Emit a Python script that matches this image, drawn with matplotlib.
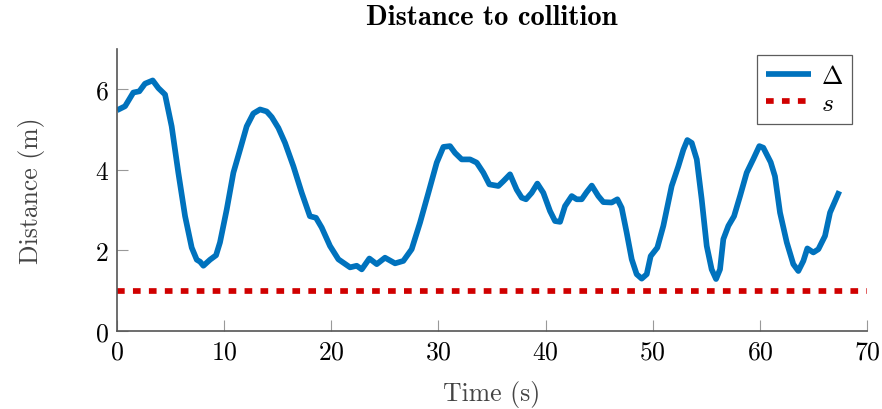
import numpy as np
import matplotlib
matplotlib.use('Agg')
import matplotlib.pyplot as plt

plt.rcParams['font.family'] = 'cmr10'
plt.rcParams['mathtext.fontset'] = 'cm'
plt.rcParams['axes.unicode_minus'] = False
plt.rcParams['axes.formatter.use_mathtext'] = True

# data
time = [0.0, 0.75, 1.52, 2.08, 2.61, 3.33, 3.86, 4.48, 5.1, 5.72, 6.35, 6.97,
        7.44, 7.75, 8.06, 8.68, 9.24, 9.61, 10.24, 10.86, 11.48, 12.1, 12.72,
        13.35, 13.97, 14.44, 15.06, 15.68, 16.46, 17.24, 18.0, 18.57, 19.1,
        19.88, 20.66, 21.75, 22.37, 22.84, 23.55, 24.24, 25.01, 25.95, 26.72,
        27.5, 28.28, 29.06, 29.84, 30.46, 31.08, 31.55, 32.17, 32.95, 33.57,
        34.19, 34.75, 35.59, 36.06, 36.68, 37.3, 37.77, 38.17, 38.7, 39.23,
        39.79, 40.41, 40.88, 41.35, 41.81, 42.44, 42.9, 43.37, 43.84, 44.31,
        44.92, 45.39, 46.17, 46.7, 47.1, 47.57, 48.04, 48.5, 48.97, 49.44,
        49.81, 50.43, 50.99, 51.77, 52.39, 52.86, 53.23, 53.64, 54.11, 54.57,
        55.04, 55.5, 55.91, 56.28, 56.59, 57.06, 57.59, 58.15, 58.77, 59.39,
        59.95, 60.32, 61.01, 61.41, 61.88, 62.51, 63.12, 63.59, 64.06, 64.43,
        64.99, 65.46, 66.08, 66.55, 67.42]
dist = [5.48, 5.58, 5.92, 5.95, 6.14, 6.22, 6.03, 5.87, 5.08, 3.93, 2.85, 2.07,
        1.77, 1.72, 1.62, 1.77, 1.88, 2.2, 3.02, 3.93, 4.5, 5.08, 5.4,
        5.5, 5.45, 5.31, 5.04, 4.67, 4.09, 3.43, 2.85, 2.81, 2.57,
        2.11, 1.78, 1.58, 1.62, 1.53, 1.8, 1.66, 1.82, 1.68, 1.74,
        2.03, 2.69, 3.43, 4.18, 4.57, 4.59, 4.42, 4.26, 4.26, 4.18,
        3.93, 3.64, 3.6, 3.72, 3.89, 3.51, 3.31, 3.27, 3.43, 3.66,
        3.43, 2.98, 2.73, 2.71, 3.1, 3.35, 3.27, 3.27, 3.45, 3.61,
        3.35, 3.2, 3.19, 3.27, 3.06, 2.44, 1.78, 1.41, 1.3, 1.41,
        1.86, 2.07, 2.61, 3.6, 4.09, 4.5, 4.74, 4.67, 4.26, 3.27,
        2.11, 1.53, 1.29, 1.53, 2.28, 2.61, 2.85, 3.35, 3.93, 4.27,
        4.59, 4.55, 4.19, 3.84, 2.94, 2.2, 1.66, 1.49, 1.74, 2.05,
        1.95, 2.03, 2.36, 2.94, 3.47]
safe_x = [0, 70]
safe_y = [1, 1]

fs = 18.5

fig = plt.figure(figsize=(8.82, 4.10), dpi=100)
ax = fig.add_axes([0.1327, 0.1902, 0.8503, 0.6878])

ax.plot(time, dist, color='#0072BD', lw=4.1, solid_capstyle='butt',
        solid_joinstyle='round', label=r'$\Delta$')
ax.plot(safe_x, safe_y, color='#D00000', lw=4.1, dashes=(1.35, 1.45),
        dash_capstyle='butt', label=r'$s$')

ax.set_xlim(0, 70)
ax.set_ylim(0, 7)
ax.set_xticks([0, 10, 20, 30, 40, 50, 60, 70])
ax.set_yticks([0, 2, 4, 6])

for side in ['top', 'right']:
    ax.spines[side].set_visible(False)
for side in ['left', 'bottom']:
    ax.spines[side].set_color('#555555')
    ax.spines[side].set_linewidth(1.2)
ax.tick_params(direction='in', length=8, width=0.8, color='#999999',
               labelsize=fs, pad=6, labelcolor='black')

ax.set_xlabel('Time (s)', fontsize=fs, color='#444444', labelpad=12)
ax.set_ylabel('Distance (m)', fontsize=fs, color='#444444', labelpad=36)
ax.set_title('Distance to collition', fontsize=20.5, family='cmb10', pad=18)

leg = ax.legend(loc='upper right', bbox_to_anchor=(0.98, 0.979), borderaxespad=0,
                fontsize=fs, frameon=True, fancybox=False, edgecolor='#333333',
                handlelength=1.75, borderpad=0.35, labelspacing=0.15,
                handletextpad=0.4)
leg.get_frame().set_linewidth(0.9)

fig.savefig('out.png', dpi=100)
